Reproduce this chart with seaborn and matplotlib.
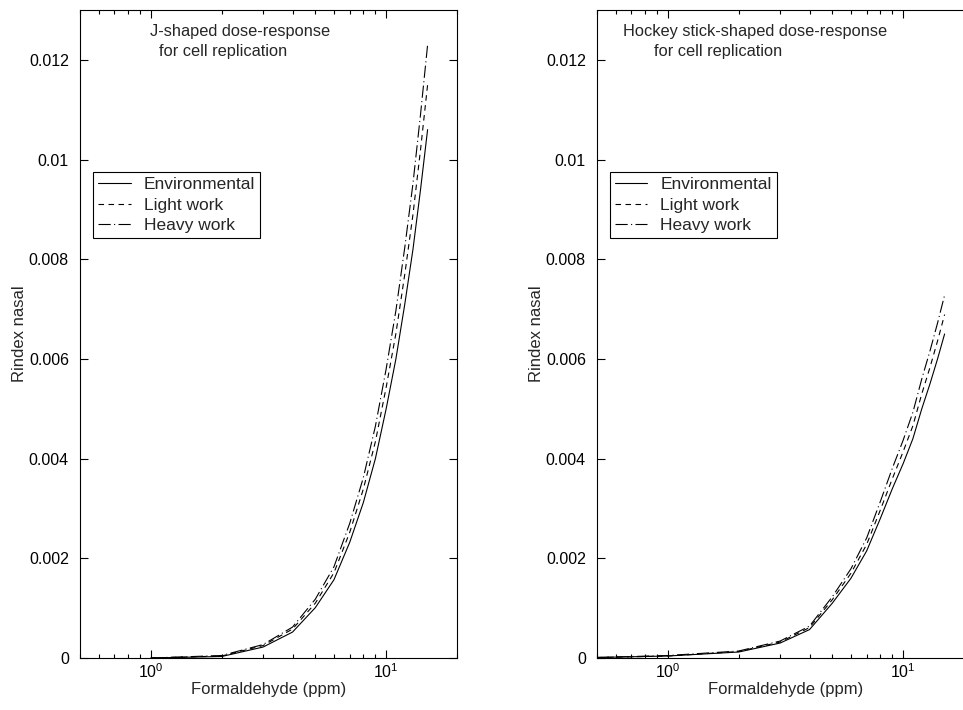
import math
import pandas as pd
import matplotlib
matplotlib.use('Agg')
import matplotlib.pyplot as plt
import matplotlib.ticker as mticker
import seaborn as sns

# dose (ppm) and Rindex values
dose_j = [1, 2, 3, 4, 5, 6, 7, 8, 9, 10, 11, 12, 13, 14, 15]
j_env = [0.0, 0.00003, 0.00022, 0.00052, 0.00101, 0.00157, 0.00232, 0.00312,
         0.0040, 0.0050, 0.0060, 0.0071, 0.0082, 0.0094, 0.0106]
j_light = [0.0, 0.00004, 0.00025, 0.00058, 0.00110, 0.00171, 0.00252, 0.00339,
           0.00434, 0.00543, 0.00651, 0.00770, 0.00890, 0.01020, 0.01150]
j_heavy = [0.0, 0.00005, 0.00027, 0.00062, 0.00118, 0.00183, 0.00270, 0.00362,
           0.00465, 0.00580, 0.00697, 0.00824, 0.00952, 0.01091, 0.01230]

dose_h = [0.5, 1, 2, 3, 4, 5, 6, 7, 8, 9, 10, 11, 12, 13, 14, 15]
h_env = [0.00001, 0.00004, 0.00012, 0.00030, 0.00057, 0.00110, 0.00160, 0.00215,
         0.00280, 0.00340, 0.00390, 0.00440, 0.00500, 0.00550, 0.00600, 0.00650]
h_light = [0.00001, 0.00004, 0.00013, 0.00032, 0.00061, 0.00117, 0.00170, 0.00228,
           0.00297, 0.00360, 0.00414, 0.00466, 0.00530, 0.00583, 0.00636, 0.00689]
h_heavy = [0.00001, 0.00005, 0.00014, 0.00034, 0.00064, 0.00123, 0.00179, 0.00241,
           0.00314, 0.00381, 0.00437, 0.00493, 0.00560, 0.00616, 0.00672, 0.00728]

series = ['Environmental', 'Light work', 'Heavy work']
y_ticks = [0, 0.002, 0.004, 0.006, 0.008, 0.01, 0.012]


def long_frame(dose, env, light, heavy):
    parts = []
    for name, vals in zip(series, [env, light, heavy]):
        parts.append(pd.DataFrame({'dose': dose, 'rindex': vals, 'exposure': name}))
    return pd.concat(parts, ignore_index=True)


sns.set_style('ticks')
plt.rcParams['font.family'] = ['Liberation Sans', 'DejaVu Sans']
plt.rcParams['font.size'] = 11
plt.rcParams['mathtext.fontset'] = 'custom'
plt.rcParams['mathtext.rm'] = 'Liberation Sans'
plt.rcParams['mathtext.it'] = 'Liberation Sans'

fig = plt.figure(figsize=(9.63, 7.10), dpi=100)
ax1 = fig.add_axes([80 / 963, 52 / 710, 377 / 963, 648 / 710])
ax2 = fig.add_axes([597 / 963, 52 / 710, 377 / 963, 648 / 710])

dash_map = {'Environmental': '', 'Light work': (5, 4), 'Heavy work': (11, 3, 1, 3)}

panels = [
    (ax1, long_frame(dose_j, j_env, j_light, j_heavy),
     [('J-shaped dose-response', 0.185), ('for cell replication', 0.21)], 0.035),
    (ax2, long_frame(dose_h, h_env, h_light, h_heavy),
     [('Hockey stick-shaped dose-response', 0.07), ('for cell replication', 0.15)], 0.034),
]

for ax, df, title_lines, leg_x in panels:
    sns.lineplot(data=df, x='dose', y='rindex', style='exposure', dashes=dash_map,
                 color='black', linewidth=0.8, ax=ax, estimator=None, sort=False)
    ax.set_xscale('log')
    ax.set_xlim(0.5, 20)
    ax.set_ylim(0, 0.013)
    ax.set_yticks(y_ticks)
    ax.yaxis.set_major_formatter(mticker.FuncFormatter(lambda v, p: '%g' % v))
    ax.xaxis.set_major_formatter(mticker.FuncFormatter(
        lambda v, p: r'$10^{%d}$' % round(math.log10(v))))
    ax.tick_params(which='both', direction='in', top=True, right=True,
                   labelsize=11.5, width=0.8, colors='black')
    ax.tick_params(which='major', length=6)
    ax.tick_params(which='minor', length=3)
    ax.tick_params(axis='y', pad=8)
    ax.tick_params(axis='x', pad=3)
    for sp in ax.spines.values():
        sp.set_linewidth(0.8)
        sp.set_color('black')
    ax.set_xlabel('Formaldehyde (ppm)', fontsize=12, labelpad=1)
    ax.set_ylabel('Rindex nasal', fontsize=12, labelpad=1)
    for i, (txt, tx) in enumerate(title_lines):
        ax.text(tx, 0.978 - i * 0.031, txt, transform=ax.transAxes,
                fontsize=11.8, ha='left', va='top')
    leg = ax.legend(loc='upper left', bbox_to_anchor=(leg_x, 0.75), fancybox=False,
                    edgecolor='black', framealpha=1, handlelength=1.85,
                    handletextpad=0.75, borderaxespad=0, borderpad=0.3,
                    labelspacing=0.3, fontsize=12.5)
    leg.get_frame().set_linewidth(0.8)

fig.savefig('out.png', dpi=100)
